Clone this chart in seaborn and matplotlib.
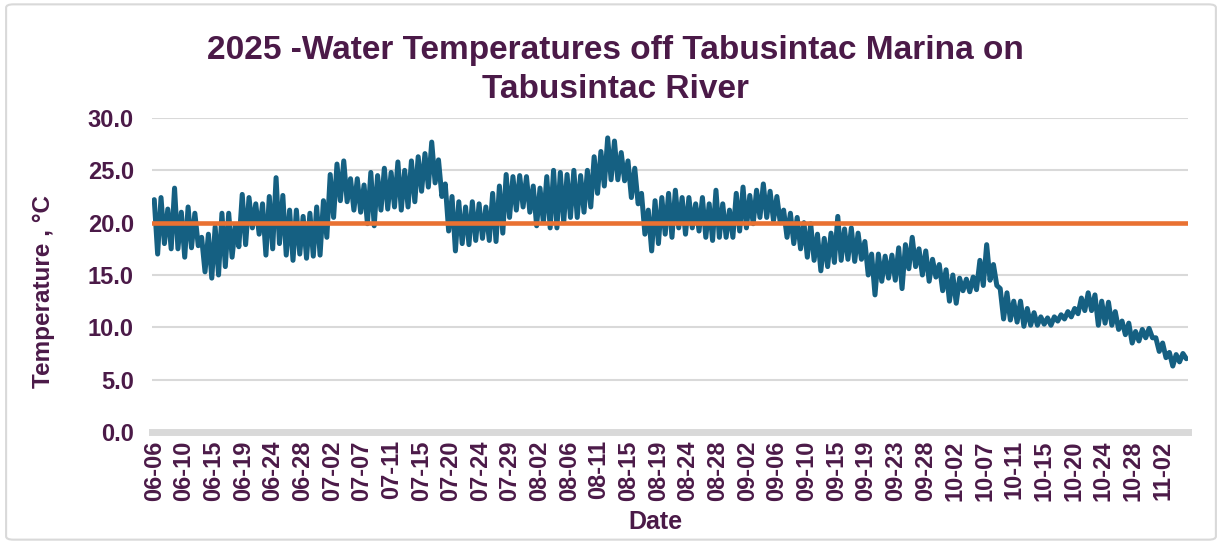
import numpy as np
import pandas as pd
import matplotlib
matplotlib.use("Agg")
import matplotlib.pyplot as plt
import seaborn as sns
from matplotlib.patches import FancyBboxPatch

# Daily high / low water temperature (°C), one pair per day from 06-06 noon
daily_high = [
    22.2, 22.4, 21.3, 23.3, 21.0, 21.5, 20.9, 18.6, 18.9, 19.6,
    20.9, 20.9, 19.8, 22.7, 22.4, 21.8, 21.8, 22.5, 24.3, 22.6,
    21.2, 21.2, 20.6, 20.9, 21.5, 22.1, 24.6, 25.6, 25.9, 24.2,
    24.2, 23.6, 24.8, 24.5, 25.2, 24.8, 25.8, 25.0, 25.9, 26.3,
    26.6, 27.7, 26.0, 23.7, 22.5, 22.0, 21.5, 22.0, 21.8, 21.5,
    22.8, 23.5, 24.6, 24.4, 24.5, 24.4, 23.5, 23.3, 24.4, 25.0,
    24.8, 24.6, 25.0, 24.5, 25.0, 26.3, 26.8, 28.1, 27.8, 26.7,
    25.9, 25.2, 22.8, 21.2, 22.1, 22.4, 22.8, 23.1, 22.4, 22.4,
    21.8, 22.4, 21.8, 23.1, 21.8, 21.2, 22.8, 23.4, 22.6, 23.1,
    23.7, 23.0, 22.5, 21.2, 20.9, 20.5, 20.0, 19.9, 18.9, 18.5,
    19.0, 20.6, 19.4, 19.5, 19.0, 18.2, 17.0, 17.0, 16.8, 16.9,
    17.6, 17.9, 18.6, 17.5, 17.3, 16.5, 16.0, 15.5, 15.0, 14.7,
    14.6, 14.8, 16.4, 17.9, 16.0, 13.7, 13.3, 12.5, 12.5, 11.8,
    11.4, 11.0, 10.9, 11.0, 11.2, 11.5, 11.8, 12.8, 13.3, 13.1,
    12.5, 12.4, 11.5, 10.6, 10.4, 9.6, 9.8, 9.9, 9.0, 8.5,
    7.6, 7.4, 7.5,
]
daily_low = [
    17.0, 18.0, 17.5, 17.5, 16.7, 17.6, 17.8, 15.3, 14.7, 15.0,
    15.8, 16.7, 17.7, 17.9, 19.5, 18.9, 16.9, 17.5, 18.0, 16.9,
    16.4, 17.0, 16.6, 16.8, 16.9, 18.6, 20.5, 22.1, 22.0, 21.2,
    21.0, 19.9, 19.7, 21.2, 21.3, 21.5, 21.2, 21.5, 22.0, 23.0,
    23.4, 23.8, 22.5, 19.2, 17.3, 18.0, 17.9, 18.3, 18.5, 18.3,
    18.2, 19.0, 20.5, 21.2, 21.5, 21.0, 19.7, 20.0, 19.5, 19.5,
    20.0, 20.5, 20.5, 21.0, 21.5, 22.8, 23.5, 24.1, 24.1, 24.0,
    22.4, 21.8, 18.9, 17.3, 18.0, 18.9, 18.6, 19.5, 18.9, 19.5,
    19.2, 18.6, 18.3, 18.6, 18.6, 18.6, 19.2, 19.5, 19.9, 20.5,
    20.5, 20.2, 20.0, 18.6, 18.0, 17.5, 16.7, 16.4, 15.4, 15.8,
    16.2, 16.4, 16.5, 16.3, 16.5, 15.0, 13.1, 14.4, 14.7, 14.5,
    13.7, 15.6, 15.8, 15.0, 14.4, 14.8, 13.5, 12.5, 12.3, 13.5,
    13.4, 13.6, 14.0, 14.5, 14.0, 10.8, 10.7, 10.5, 10.1, 10.2,
    10.2, 10.3, 10.2, 10.6, 10.8, 11.0, 11.3, 11.6, 11.6, 10.2,
    10.4, 10.2, 9.8, 9.3, 8.5, 8.7, 9.0, 9.0, 7.7, 7.1,
    6.3, 6.7, 7.0,
]
threshold = 20.0

tick_labels = [
    "06-06", "06-10", "06-15", "06-19", "06-24", "06-28", "07-02", "07-07",
    "07-11", "07-15", "07-20", "07-24", "07-29", "08-02", "08-06", "08-11",
    "08-15", "08-19", "08-24", "08-28", "09-02", "09-06", "09-10", "09-15",
    "09-19", "09-23", "09-28", "10-02", "10-07", "10-11", "10-15", "10-20",
    "10-24", "10-28", "11-02",
]

start = pd.Timestamp("2025-06-06 12:00")
temps = np.column_stack([daily_high, daily_low]).ravel()
times = pd.date_range(start, periods=len(temps), freq="12h")
df = pd.DataFrame({"time": times, "temp": temps})

purple = "#4b1a48"
blue = "#156082"
orange = "#e97132"
grey = "#d9d9d9"

sns.set_style("white")
plt.rcParams["font.family"] = ["Liberation Sans", "DejaVu Sans"]

fig = plt.figure(figsize=(12.22, 5.44), dpi=100)
ax = fig.add_axes([152 / 1222, 1 - 432 / 544, (1188 - 152) / 1222, (432 - 118) / 544])

sns.lineplot(data=df, x="time", y="temp", color=blue, linewidth=3.6, ax=ax)
ax.axhline(threshold, color=orange, linewidth=3.3, zorder=3)

ax.set_ylim(0, 30)
ax.set_yticks(np.arange(0, 30.1, 5))
ax.set_yticklabels([f"{v:.1f}" for v in np.arange(0, 30.1, 5)])
ax.set_xlim(start - pd.Timedelta(hours=8), times[-1] + pd.Timedelta(hours=6))

tick_pos = [start + pd.Timedelta(days=4.382 * k) for k in range(len(tick_labels))]
ax.set_xticks(tick_pos)
ax.set_xticklabels(tick_labels, rotation=90)

ax.grid(axis="y", color=grey, linewidth=1.5)
ax.set_axisbelow(True)
for side in ["top", "right", "left"]:
    ax.spines[side].set_visible(False)
ax.spines["bottom"].set_color(grey)
ax.spines["bottom"].set_linewidth(5)
ax.tick_params(length=0, labelsize=17, labelcolor=purple)
ax.tick_params(axis="y", pad=13)
ax.tick_params(axis="x", pad=6)
for lab in ax.get_xticklabels() + ax.get_yticklabels():
    lab.set_fontweight("bold")
ax.set_xlabel("")
ax.set_ylabel("")

fig.text(615 / 1222, 1 - 70 / 544,
         "2025 -Water Temperatures off Tabusintac Marina on\nTabusintac River",
         ha="center", va="center", fontsize=24, fontweight="bold",
         color=purple, linespacing=1.35)
fig.text(44 / 1222, 1 - 292 / 544, "Temperature , °C", rotation=90,
         ha="center", va="center", fontsize=17.5, fontweight="bold", color=purple)
fig.text(655 / 1222, 1 - 522 / 544, "Date", ha="center", va="center",
         fontsize=18, fontweight="bold", color=purple)

fig.patches.append(FancyBboxPatch((0.005, 0.008), 0.99, 0.984,
                                  boxstyle="round,pad=0,rounding_size=0.006",
                                  transform=fig.transFigure, fill=False,
                                  edgecolor=grey, linewidth=1.5))

fig.savefig("out.png", dpi=100)
